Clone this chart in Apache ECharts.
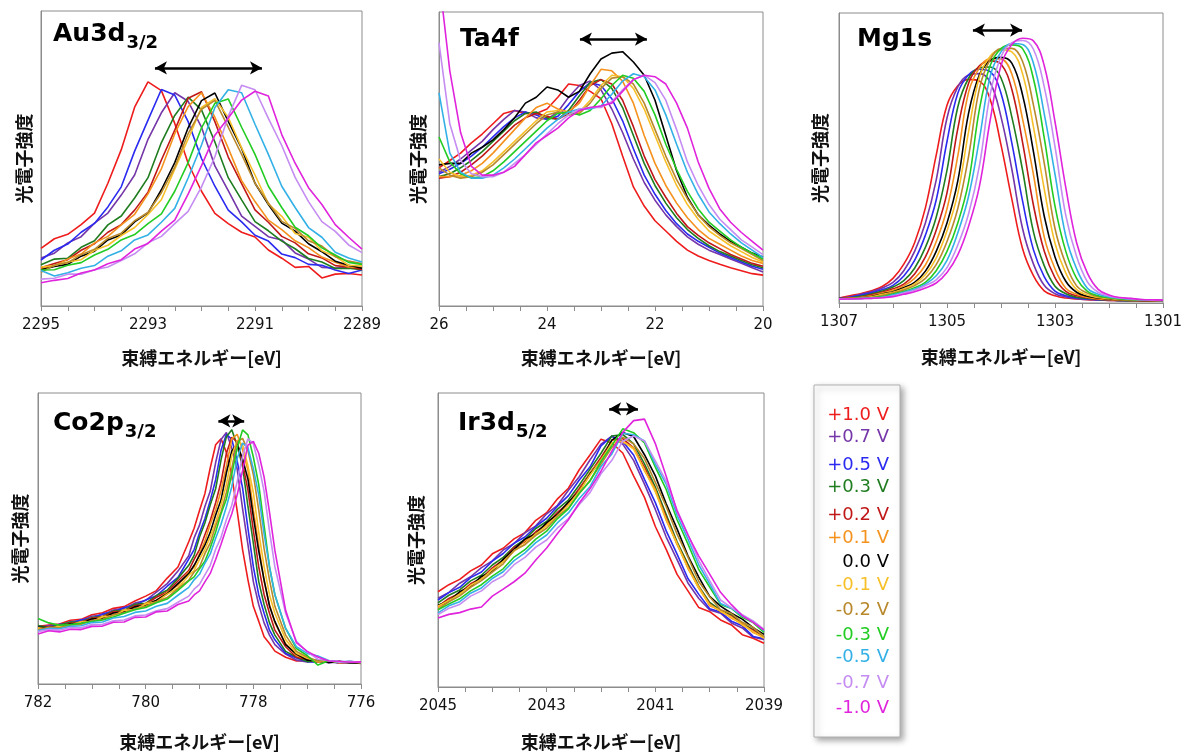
<!DOCTYPE html>
<html><head><meta charset="utf-8">
<script src="https://cdn.jsdelivr.net/npm/echarts@6/dist/echarts.min.js"></script>
<style>html,body{margin:0;padding:0;background:#fff}#c{width:1188px;height:756px}</style>
</head><body><div id="c"></div>
<script>
// ---------- legend / series labels ----------
const voltages = ['+1.0 V','+0.7 V','+0.5 V','+0.3 V','+0.2 V','+0.1 V','0.0 V','-0.1 V','-0.2 V','-0.3 V','-0.5 V','-0.7 V','-1.0 V'];

// ---------- Au3d3/2 ----------
const auEnergy = [2295,2294.75,2294.5,2294.25,2294,2293.75,2293.5,2293.25,2293,2292.75,2292.5,2292.25,2292,2291.75,2291.5,2291.25,2291,2290.75,2290.5,2290.25,2290,2289.75,2289.5,2289.25,2289];
const auTicks = [2295,2293,2291,2289];
const auArrow = [2292.87,2290.87,80.7];
const auP10 = [19.5,22.8,24.3,27.6,31.5,41.6,53.0,67.4,76.0,73.0,61.9,48.4,38.9,31.4,27.9,25.0,23.4,19.0,16.2,13.1,13.4,9.5,10.8,11.0,10.5];
const auP07 = [16.3,17.9,21.4,23.5,28.1,31.5,37.6,44.4,56.5,65.5,72.3,69.4,60.6,47.5,39.1,30.5,27.0,23.5,22.4,18.0,15.9,13.1,12.9,13.2,12.8];
const auP05 = [15.6,18.9,21.0,25.0,28.0,33.6,40.4,52.5,63.0,73.4,71.5,62.5,50.0,40.6,32.5,28.5,24.0,22.0,17.6,16.4,14.1,13.8,12.2,11.0,12.2];
const auP03 = [14.0,15.9,16.2,19.9,22.1,27.5,30.5,36.6,43.5,55.4,64.6,70.8,66.5,55.6,43.5,36.0,28.6,25.5,22.0,19.4,16.1,14.9,12.7,12.8,12.3];
const auP02 = [13.0,14.4,15.7,18.9,21.1,25.0,27.6,32.5,38.6,49.5,59.6,70.4,72.6,62.5,50.5,41.5,32.6,28.4,23.6,21.4,17.7,16.3,13.7,13.2,12.4];
const auP01 = [12.6,13.6,15.9,17.6,21.4,23.6,27.5,31.1,38.0,46.5,58.4,67.6,72.3,64.0,53.5,42.5,35.4,29.1,25.9,22.1,19.8,16.6,14.8,13.2,13.1];
const au00  = [12.3,13.4,14.1,16.9,18.6,22.4,24.1,28.5,31.6,39.4,48.6,60.4,69.6,72.2,62.6,53.4,41.6,34.4,28.1,25.4,21.1,18.4,15.2,13.8,12.8];
const auM01 = [13.2,13.7,14.9,15.7,18.9,20.6,23.9,26.6,31.0,36.0,46.4,56.6,67.3,70.3,63.9,53.6,44.4,34.6,30.4,24.6,23.3,18.7,16.8,13.8,13.6];
const auM02 = [11.4,13.9,14.7,17.4,19.2,22.9,24.7,28.9,31.7,38.4,47.1,58.4,66.7,69.7,60.6,51.4,41.6,34.9,28.7,26.3,22.1,20.3,16.7,15.2,14.4];
const auM03 = [12.2,12.3,13.8,14.7,17.3,19.2,22.4,24.2,27.9,31.2,38.9,48.6,60.4,68.7,70.2,60.6,51.4,40.6,33.4,26.7,23.8,19.7,17.3,14.8,14.1];
const auM05 = [12.0,10.2,11.3,12.8,13.7,16.9,18.7,22.4,24.1,28.4,33.1,43.4,54.6,67.3,73.3,72.3,61.6,51.4,40.6,33.4,26.6,23.3,18.2,16.3,14.9];
const auM07 = [9.1,9.4,10.8,10.8,12.3,13.2,15.4,17.7,21.4,23.6,27.9,32.1,40.4,50.6,64.3,74.8,73.3,63.6,54.4,43.6,35.4,28.6,25.3,20.7,18.1];
const auM10 = [7.9,8.7,9.3,11.2,12.2,14.3,15.7,19.3,21.2,25.4,29.1,37.9,47.6,57.9,63.7,69.8,72.8,71.2,58.1,48.4,40.1,34.4,27.6,23.3,19.3];

// ---------- Ta4f ----------
const taEnergy = [26,25.8,25.6,25.4,25.2,25,24.8,24.6,24.4,24.2,24,23.8,23.6,23.4,23.2,23,22.8,22.6,22.4,22.2,22,21.8,21.6,21.4,21.2,21,20.8,20.6,20.4,20.2,20];
const taTicks = [26,24,22,20];
const taArrow = [23.39,22.15,90.8];
const taP10 = [47,49.5,52,55.5,58.5,62,65.5,66.5,65.5,65.5,67,71,75.5,75,73,70.5,62,51,40.5,34,29,25.5,22,19,17,15.5,14.2,13,12,11,10.5];
const taP07 = [45.5,47.5,50,53,56,60,63.5,66.5,66,64,63.5,66,71,75,76.5,73.5,67,59,50,42,36,31,27,23.5,21,19,17.5,16,14.5,13,11.6];
const taP05 = [45,46.5,48.5,51,54,57.5,61,64,66,65,63.5,64.5,68.5,73,76,75,70.5,63,53.5,44.5,38,32.5,28,24.5,22,20,18,16.5,15,13.5,12.5];
const taP03 = [44,45,47,49.5,52.5,56,59.5,63,65.5,66,64,63.5,66.5,71.5,76,77,74,67.5,58,48.5,41,35,30,26,23,20.5,18.5,17,15.5,14,13];
const taP02 = [43.5,44,45.5,48,51,54.5,58,61.5,64,65.5,64.5,63.5,65.5,70,75,77,75.5,70,61,51,43,37,31.5,27,24,21.5,19.5,17.5,16,14.5,13.5];
const taP01 = [44,44,44.5,46,48.5,52,56,60,64,67.5,69,67,66,69,75,80.5,80,76.5,69,58,48.5,41,35,30,26,23,21,19,17,15.5,14.5];
const ta00  = [48,48.5,48.5,52,54,56.5,60,64,69,71,74.5,73.5,71,73,79,84,86,86.5,83,78.5,70,58,46,37,31,27.5,24.5,22,20,18,16.7];
const taM01 = [50,45.5,44,44.5,46,49,52.5,56,59.5,63,66,66.5,65,66,70,75,78.5,78,74,67,58,49,41,34.5,29.5,25.5,23,20.5,18.5,16.5,15];
const taM02 = [47,44.5,43.5,44,45.5,48,51.5,55,58.5,62,65,66,65,65.5,69,74,77.5,78,75.5,69,60,51,43,36.5,31,27,24,21.5,19.5,17.5,15.5];
const taM03 = [57.5,49,45,43.5,44,46,49,52.5,56,59.5,63,65.5,66,65,66.5,70.5,75,78.5,77.5,73,65,55,46.5,39,33,28.5,25.5,22.5,20,18,16];
const taM05 = [72.5,52,45.5,43.5,43.5,44.5,47,50,53.5,57,60.5,63.5,66,67,67,68,72,76.5,79,78,73.5,65,55,45.5,38,32,28,24.5,21.5,19,16.5];
const taM07 = [89.5,62,49.5,45,44,44,45.5,48.5,51.5,55,58.5,62,65,67,67.5,67.5,69.5,73.5,77,78.5,76,70,60,49,41,34.5,29.5,26,22.5,20,17.5];
const taM10 = [112,80,59,47.5,44.5,44.5,45.5,47.5,51.5,55.5,58,60.5,64,66.5,67.5,68,69,73,77,78.5,78,75.5,69,60.5,49,40,33,28.5,25,22,19];

// ---------- Mg1s ----------
const mgEnergy = [1307,1306.8,1306.6,1306.4,1306.2,1306,1305.8,1305.6,1305.4,1305.2,1305,1304.8,1304.6,1304.4,1304.2,1304,1303.8,1303.6,1303.4,1303.2,1303,1302.8,1302.6,1302.4,1302.2,1302,1301.8,1301.6,1301.4,1301.2,1301];
const mgTicks = [1307,1305,1303,1301];
const mgArrow = [1304.52,1303.61,94.1];
const mgP10 = [1.7,2.5,3.2,4.2,5.7,8.5,13.4,20.8,32.8,51,68.2,74.9,77.1,76.5,70.2,54.5,35.9,18.7,9.4,4.2,2.5,1.7,1.4,1.1,1.0,0.9,0.8,0.8,0.8,0.8,0.8];
const mgP07 = [1.7,2.1,3.0,3.9,5.2,7.1,11.1,17.8,27.6,42.4,63.8,74.5,78.6,79.1,76.1,64.2,46.2,25.6,13.5,6.1,3.2,2.1,1.5,1.2,1.0,0.9,0.8,0.8,0.8,0.8,0.8];
const mgP05 = [1.6,1.9,2.7,3.5,4.6,6.1,9.3,14.7,23.4,35.5,55.7,72.3,78.7,80.6,79.8,72.3,55.2,35.1,18.4,9.1,4.1,2.5,1.7,1.4,1.1,1.0,0.9,0.8,0.8,0.8,0.8];
const mgP03 = [1.6,1.7,2.3,3.1,4.1,5.5,7.7,12.0,19.2,29.6,45.8,67.6,77.5,81.1,81.4,77.6,64.2,45.7,24.6,12.9,5.8,3.2,2.0,1.6,1.2,1.1,0.9,0.8,0.8,0.8,0.8];
const mgP02 = [1.5,1.7,2.0,2.8,3.7,4.9,6.5,10.0,15.9,25.1,38.0,60.1,75.8,81.8,83.5,82.4,73.7,55.3,33.8,17.9,8.7,4.0,2.5,1.8,1.3,1.1,1.0,0.9,0.8,0.8,0.8];
const mgP01 = [1.4,1.6,1.9,2.5,3.4,4.4,5.9,8.5,13.1,21.1,32.5,50.7,72.7,81.1,84.2,84.1,79.0,63.4,44.4,22.8,11.8,5.1,3.0,2.0,1.5,1.2,1.0,0.9,0.8,0.8,0.8];
const mg00  = [1.4,1.5,1.7,2.2,3.1,3.9,5.3,7.1,11.0,17.8,27.6,42.1,65.5,78.7,83.7,84.7,82.7,71.7,52.3,30.0,15.9,7.5,3.7,2.3,1.7,1.4,1.1,1.0,0.9,0.8,0.8];
const mgM01 = [1.4,1.5,1.7,2.1,3.0,3.7,4.9,6.6,9.8,15.5,24.9,37.8,59.1,77.9,85.1,87.3,86.6,79.0,60.8,39.4,20.6,10.3,4.6,2.8,1.9,1.5,1.2,1.1,1.0,0.9,0.9];
const mgM02 = [1.4,1.5,1.7,1.9,2.6,3.4,4.5,6.0,8.5,13.2,21.2,32.6,50.6,73.9,84.0,87.7,87.8,83.3,68.3,48.3,25.7,13.4,5.9,3.4,2.2,1.8,1.3,1.1,1.0,0.9,0.9];
const mgM03 = [1.3,1.4,1.6,1.8,2.2,3.1,4.0,5.3,7.1,11.1,17.8,27.6,41.8,66.8,81.9,87.7,89.0,87.7,77.4,57.0,33.4,17.8,8.5,4.0,2.5,1.8,1.4,1.2,1.1,1.0,0.9];
const mgM05 = [1.3,1.4,1.5,1.7,2.0,2.8,3.7,4.8,6.5,9.4,14.7,24.2,36.8,56.5,78.2,86.6,89.5,89.1,82.7,65.3,44.4,23.0,11.8,5.1,3.0,2.1,1.7,1.3,1.1,1.0,0.9];
const mgM07 = [1.4,1.4,1.5,1.6,1.9,2.4,3.4,4.4,6.0,8.0,12.2,20.0,30.8,47.3,72.0,84.9,89.8,90.5,87.5,74.6,53.9,30.2,16.0,7.3,3.7,2.4,1.7,1.5,1.2,1.0,0.9];
const mgM10 = [1.3,1.4,1.5,1.6,1.8,2.2,3.0,3.9,5.2,6.9,10.5,16.6,26.5,40.2,63.1,81.9,89.1,91.3,90.4,81.9,62.5,39.8,20.8,10.3,4.7,2.8,1.9,1.6,1.2,1.1,1.0];

// ---------- Co2p3/2 ----------
const coEnergy = [782,781.8,781.6,781.4,781.2,781,780.8,780.6,780.4,780.2,780,779.8,779.6,779.4,779.2,779.1,779,778.9,778.8,778.7,778.6,778.5,778.4,778.3,778.2,778.1,778,777.9,777.8,777.7,777.6,777.4,777.2,777,776.8,776.6,776.4,776.2,776];
const coTicks = [782,780,778,776];
const coArrow = [778.65,778.17,90.4];
const coP10 = [19.8,20.3,20.6,21.9,22.2,23.8,24.5,26.0,26.6,28.5,30.2,32.1,36.4,40.2,48.9,53.5,59.6,65.4,74.3,82.2,84.3,79.6,71.5,59.5,46.2,35.8,26.7,21.6,16.2,13.9,11.3,9.2,7.9,8.1,7.5,7.8,7.2,7.4,7.1];
const coP07 = [19.2,20.1,20.2,21.4,21.8,23.3,23.8,25.4,26.0,27.8,28.7,31.6,34.5,38.8,44.1,50.2,54.6,61.0,66.3,76.1,84.0,86.4,81.0,73.8,60.3,47.9,35.2,27.3,21.0,16.8,13.5,10.3,8.2,7.6,7.9,7.3,7.6,7.2,7.4];
const coP05 = [19.6,19.5,20.5,20.7,22.1,22.5,24.1,24.7,26.3,27.0,28.9,30.3,33.6,36.6,42.9,46.2,51.9,56.8,63.1,70.2,80.3,85.8,84.1,76.6,67.4,53.5,40.3,30.7,24.3,18.5,15.2,10.6,8.9,7.7,7.5,7.7,7.2,7.5,7.2];
const coP03 = [20.1,19.4,20.3,21.2,21.3,22.8,23.2,25.1,25.3,27.4,27.7,30.4,32.2,36.3,40.8,44.2,50.5,55.3,61.6,67.1,77.0,85.0,87.4,82.0,74.7,61.0,48.4,35.2,27.3,21.0,16.8,11.2,9.3,7.7,8.2,7.4,7.8,7.3,7.5];
const coP02 = [18.8,19.7,19.6,20.9,21.1,22.6,23.0,24.8,25.0,26.9,27.4,29.8,31.6,35.4,39.0,42.8,46.2,51.3,56.2,62.3,69.4,79.3,84.8,83.2,75.8,66.6,52.8,40.3,30.7,24.3,18.5,12.8,9.2,8.4,7.6,7.8,7.3,7.6,7.2];
const coP01 = [19.3,19.1,20.1,20.2,21.4,21.7,23.2,23.8,25.4,25.9,27.7,28.7,31.5,33.9,38.5,40.2,44.8,49.1,54.9,59.9,66.5,75.0,84.2,85.8,80.5,73.4,59.9,47.6,35.2,27.3,21.0,13.9,9.8,8.6,7.6,7.9,7.3,7.5,7.2];
const co00  = [19.5,19.3,19.6,20.6,20.8,22.3,22.6,24.4,24.8,26.5,27.1,28.8,31.0,34.5,37.9,40.8,44.2,47.7,52.1,58.1,63.2,72.6,80.1,82.4,77.3,70.4,57.5,45.7,35.8,26.8,21.5,13.5,10.3,8.2,8.0,7.4,7.7,7.3,7.2];
const coM01 = [19.3,18.8,19.9,20.0,21.3,21.5,23.0,23.5,25.3,25.6,27.5,28.2,30.9,33.0,37.3,39.0,42.8,46.2,50.7,55.6,61.6,68.6,78.4,83.8,82.2,74.9,65.8,52.2,40.3,30.7,24.3,15.3,10.6,8.9,7.7,8.0,7.4,7.7,7.3];
const coM02 = [18.6,19.5,19.3,20.3,20.5,21.8,22.2,23.8,24.5,25.8,26.7,28.3,29.7,32.8,35.7,38.5,40.2,44.8,48.5,54.3,59.2,65.8,74.2,83.2,84.4,80.2,72.0,59.8,46.5,35.8,26.7,16.8,11.2,9.3,7.9,8.0,7.5,7.7,7.4];
const coM03 = [22.5,21.0,20.2,20.4,20.9,21.5,22.0,23.0,24.3,25.5,26.3,27.9,29.2,32.2,35.4,36.8,39.6,42.2,46.8,52.2,58.5,63.6,72.1,81.1,87.3,85.6,78.0,68.6,54.4,40.3,30.7,19.1,12.2,9.8,6.5,8.0,7.5,7.7,7.4];
const coM05 = [18.4,19.1,19.0,19.8,20.0,21.1,21.3,22.7,23.2,24.6,25.1,26.7,27.7,30.5,33.2,35.8,37.7,41.5,44.7,50.1,54.9,60.9,67.8,77.5,82.8,81.2,74.0,65.0,51.6,40.3,30.7,19.1,12.8,10.5,9.6,8.1,7.6,7.8,7.4];
const coM07 = [18.0,18.7,18.5,19.4,19.3,20.4,20.5,21.7,22.0,23.4,23.7,25.2,25.9,28.1,30.2,32.6,34.2,37.5,40.7,46.3,50.4,56.5,61.4,69.6,78.3,84.3,82.6,75.3,66.2,52.5,40.3,24.3,14.7,11.1,8.5,8.1,7.5,7.8,7.4];
const coM10 = [17.2,18.3,17.9,18.8,18.7,19.8,19.9,21.2,21.3,22.9,23.0,24.8,25.1,27.3,28.5,30.6,32.0,35.1,38.0,42.8,48.0,53.6,58.5,65.0,73.3,82.1,83.4,79.3,71.1,59.1,45.9,25.3,14.2,11.2,9.3,7.9,7.8,7.5,7.6];

// ---------- Ir3d5/2 ----------
const irEnergy = [2045,2044.8,2044.6,2044.4,2044.2,2044,2043.8,2043.6,2043.4,2043.2,2043,2042.8,2042.6,2042.4,2042.2,2042,2041.8,2041.6,2041.4,2041.2,2041,2040.8,2040.6,2040.4,2040.2,2040,2039.8,2039.6,2039.4,2039.2,2039];
const irTicks = [2045,2043,2041,2039];
const irArrow = [2041.85,2041.32,94.6];
const irP10 = [32.4,34.8,36.6,39.5,41.5,45.3,47.2,50.4,52.5,56.7,59.3,64.0,67.6,73.9,79.0,84.3,83.0,79.6,71.8,64.5,54.6,46.8,38.3,32.7,27.0,25.6,22.8,21.1,17.8,16.6,14.9];
const irP07 = [30.2,32.2,35.3,37.5,40.6,42.9,46.6,48.8,52.4,54.8,58.9,61.8,66.9,71.5,77.3,82.6,85.3,82.6,77.1,69.0,60.4,51.0,43.3,35.4,30.1,26.2,25.1,21.8,20.1,16.9,16.2];
const irP05 = [29.6,32.1,33.9,37.2,39.1,42.8,45.4,48.9,51.0,54.6,57.4,61.5,65.1,70.4,74.9,82.0,85.3,83.5,78.9,70.6,62.7,53.1,45.2,36.9,31.5,26.6,25.5,22.4,20.8,17.2,16.4];
const irP03 = [28.6,31.2,33.0,36.1,38.0,41.5,44.1,47.7,50.2,53.9,56.3,60.5,63.6,68.7,74.1,79.5,85.4,85.9,82.7,75.9,68.0,58.7,49.4,41.8,34.3,28.8,26.1,24.5,21.6,19.5,16.9];
const irP02 = [27.4,30.1,31.9,35.1,37.0,40.5,43.2,47.5,49.4,52.8,55.4,59.4,62.6,67.5,72.8,78.1,83.9,84.5,81.3,74.7,66.9,57.7,48.6,41.1,33.7,28.3,25.7,24.1,21.2,19.3,16.6];
const irP01 = [27.1,29.3,32.2,34.1,37.3,39.5,43.3,46.6,49.7,51.9,55.6,58.4,62.8,66.5,73.0,77.0,84.0,83.4,81.4,73.6,67.1,56.7,48.9,40.3,34.1,27.6,26.1,23.4,21.7,18.5,16.9];
const ir00  = [27.8,29.2,32.4,34.2,37.6,39.4,43.4,46.8,50.3,52.1,55.9,58.7,62.9,66.6,72.5,77.0,84.0,86.6,85.2,79.0,71.8,62.3,53.8,44.6,37.4,30.8,27.5,25.1,23.1,20.2,17.9];
const irM01 = [27.5,29.4,31.6,34.6,36.7,39.9,42.6,46.2,48.7,52.1,54.8,58.3,61.9,66.6,72.1,77.2,83.0,83.6,80.9,73.9,66.4,57.0,48.5,40.6,33.5,28.1,25.7,23.8,21.1,18.9,16.6];
const irM02 = [26.4,29.0,31.0,33.9,36.2,39.1,41.9,46.5,48.4,51.6,54.0,58.0,60.9,65.8,70.3,75.8,81.5,85.0,82.7,77.7,69.6,61.4,52.0,44.2,35.9,30.7,26.3,25.0,22.0,20.3,17.1];
const irM03 = [26.3,28.2,30.0,32.7,34.8,37.7,40.2,44.2,46.7,50.3,53.0,57.3,60.6,65.9,70.1,76.7,82.2,87.8,86.5,83.0,74.8,67.2,56.9,48.7,39.9,34.0,28.1,26.7,23.7,21.9,18.6];
const irM05 = [25.2,27.6,29.0,31.9,33.7,36.9,39.2,43.0,45.6,49.1,51.7,55.9,59.2,64.1,68.2,75.0,79.3,86.3,85.8,83.7,75.8,69.0,58.4,50.3,41.5,35.1,28.4,26.8,24.1,22.3,19.1];
const irM07 = [24.6,26.8,28.1,30.9,32.7,35.8,37.8,41.6,44.1,47.6,50.0,54.1,57.3,62.1,66.2,72.5,77.1,83.6,85.4,83.7,76.9,70.0,60.2,51.9,43.0,36.2,29.6,27.0,24.6,22.5,19.6];
const irM10 = [23.5,24.7,25.3,26.5,27.2,30.9,33.3,35.8,38.7,43.2,47.3,52.2,56.9,62.6,67.5,73.4,80.2,86.6,90.6,91.1,82.8,71.7,59.8,51.7,44.5,38.4,32.2,28.0,24.3,22.0,19.4];

// ---------- styles & layout ----------
const lineColors = ['#ee1c1c','#7436a8','#2a2af0','#1f7d1f','#c01818','#f5921e','#000000','#f7c028','#b8892c','#22cc22','#33b1e6','#c58cf2','#e023dc'];
const FONT_NUM = '"DejaVu Sans", Verdana, sans-serif';
const FONT_JP = '"Noto Sans CJK JP", "Noto Sans CJK SC", sans-serif';

const panels = [
  {energy: auEnergy, values: [auP10,auP07,auP05,auP03,auP02,auP01,au00,auM01,auM02,auM03,auM05,auM07,auM10], ticks: auTicks, arrow: auArrow,
   min: 2289, max: 2295, rect: [41,11,321,295], yGap: 8, xGap: 43, smooth: false,
   title: 'Au3d', sub: '3/2', tx: 53, ty: 43},
  {energy: taEnergy, values: [taP10,taP07,taP05,taP03,taP02,taP01,ta00,taM01,taM02,taM03,taM05,taM07,taM10], ticks: taTicks, arrow: taArrow,
   min: 20, max: 26, rect: [439,12,324,294], yGap: 12, xGap: 43, smooth: false,
   title: 'Ta4f', sub: '', tx: 460, ty: 48},
  {energy: mgEnergy, values: [mgP10,mgP07,mgP05,mgP03,mgP02,mgP01,mg00,mgM01,mgM02,mgM03,mgM05,mgM07,mgM10], ticks: mgTicks, arrow: mgArrow,
   min: 1301, max: 1307, rect: [839,13,324,290], yGap: 10, xGap: 45, smooth: 0.4,
   title: 'Mg1s', sub: '', tx: 857, ty: 48},
  {energy: coEnergy, values: [coP10,coP07,coP05,coP03,coP02,coP01,co00,coM01,coM02,coM03,coM05,coM07,coM10], ticks: coTicks, arrow: coArrow,
   min: 776, max: 782, rect: [38,393,323,291], yGap: 9, xGap: 49, smooth: false,
   title: 'Co2p', sub: '3/2', tx: 53, ty: 432},
  {energy: irEnergy, values: [irP10,irP07,irP05,irP03,irP02,irP01,ir00,irM01,irM02,irM03,irM05,irM07,irM10], ticks: irTicks, arrow: irArrow,
   min: 2039, max: 2045, rect: [438,393,326,294], yGap: 13, xGap: 46, smooth: false,
   title: 'Ir3d', sub: '5/2', tx: 458, ty: 432}
];

const grid = [], xAxis = [], yAxis = [], series = [], graphic = [];
const axisGrey = '#8c8c8c';
const measureCtx = document.createElement('canvas').getContext('2d');

panels.forEach((p, i) => {
  grid.push({left: p.rect[0], top: p.rect[1], width: p.rect[2], height: p.rect[3],
    show: true, borderColor: axisGrey, borderWidth: 1, backgroundColor: 'rgba(0,0,0,0)', containLabel: false});
  xAxis.push({
    gridIndex: i, type: 'value', inverse: true, min: p.min, max: p.max, interval: 0.5,
    axisLine: {show: true, onZero: false, lineStyle: {color: axisGrey, width: 1}},
    axisTick: {show: true, inside: false, length: 5, lineStyle: {color: axisGrey, width: 1}},
    splitLine: {show: false},
    axisLabel: {
      show: true, margin: 12, color: '#111', fontSize: 15, fontFamily: FONT_NUM,
      showMinLabel: true, showMaxLabel: true, hideOverlap: false,
      formatter: v => { const t = p.ticks.find(t => Math.abs(t - v) < 1e-6); return t === undefined ? '' : String(t); }
    },
    name: '束縛エネルギー[eV]', nameLocation: 'middle', nameGap: p.xGap,
    nameTextStyle: {color: '#111', fontSize: 18, fontWeight: 'bold', fontFamily: FONT_JP}
  });
  yAxis.push({
    gridIndex: i, type: 'value', min: 0, max: 100,
    axisLine: {show: true, lineStyle: {color: axisGrey, width: 1}},
    axisTick: {show: false}, axisLabel: {show: false}, splitLine: {show: false},
    name: '光電子強度', nameLocation: 'middle', nameRotate: 90, nameGap: p.yGap,
    nameTextStyle: {color: '#111', fontSize: 18, fontWeight: 'bold', fontFamily: FONT_JP}
  });
  p.values.forEach((vals, k) => {
    const s = {
      name: voltages[k], type: 'line', xAxisIndex: i, yAxisIndex: i,
      data: p.energy.map((e, j) => [e, vals[j]]),
      symbol: 'none', showSymbol: false, smooth: p.smooth, clip: true,
      lineStyle: {width: 1.6, color: lineColors[k]}, itemStyle: {color: lineColors[k]},
      emphasis: {disabled: true}, animation: false, silent: true
    };
    if (k === 0) {
      s.markLine = {
        silent: true, animation: false, symbol: ['arrow', 'arrow'], symbolSize: [10, 12],
        label: {show: false}, emphasis: {disabled: true},
        lineStyle: {color: '#000', width: 2.5, type: 'solid'},
        data: [[{coord: [p.arrow[0], p.arrow[2]]}, {coord: [p.arrow[1], p.arrow[2]]}]]
      };
    }
    series.push(s);
  });
  // panel title with optional subscript
  const mainFont = 'bold 25px ' + FONT_NUM;
  const subFont = 'bold 18px ' + FONT_NUM;
  measureCtx.font = mainFont;
  const w = measureCtx.measureText(p.title).width;
  graphic.push({type: 'text', x: p.tx, y: p.ty - 8.7, silent: true, z: 100,
    style: {text: p.title, font: mainFont, fill: '#000', align: 'left', verticalAlign: 'middle', textAlign: 'left', textVerticalAlign: 'middle'}});
  if (p.sub) {
    graphic.push({type: 'text', x: p.tx + w + 1, y: p.ty + 7 - 6.2, silent: true, z: 100,
      style: {text: p.sub, font: subFont, fill: '#000', align: 'left', verticalAlign: 'middle', textAlign: 'left', textVerticalAlign: 'middle'}});
  }
});

// legend box (text only, coloured like the curves)
const legendRowsY = [415,437,465,487,515,538,562,585,610,635,657,683,708];
graphic.push({type: 'rect', silent: true, z: 90, shape: {x: 814, y: 385, width: 86, height: 352},
  style: {fill: '#ffffff', stroke: '#b0b0b0', lineWidth: 1, shadowBlur: 6, shadowOffsetX: 3, shadowOffsetY: 3, shadowColor: 'rgba(0,0,0,0.35)'}});
voltages.forEach((v, k) => {
  graphic.push({type: 'text', x: 889, y: legendRowsY[k], silent: true, z: 95,
    style: {text: v, font: '18px ' + FONT_NUM, fill: lineColors[k], align: 'right', verticalAlign: 'middle', textAlign: 'right', textVerticalAlign: 'middle'}});
});

const chart = echarts.init(document.getElementById('c'), null, {renderer: 'canvas', width: 1188, height: 756});
chart.setOption({
  animation: false,
  backgroundColor: '#ffffff',
  grid, xAxis, yAxis, series, graphic,
  tooltip: {show: false}
});
</script>
</body></html>
